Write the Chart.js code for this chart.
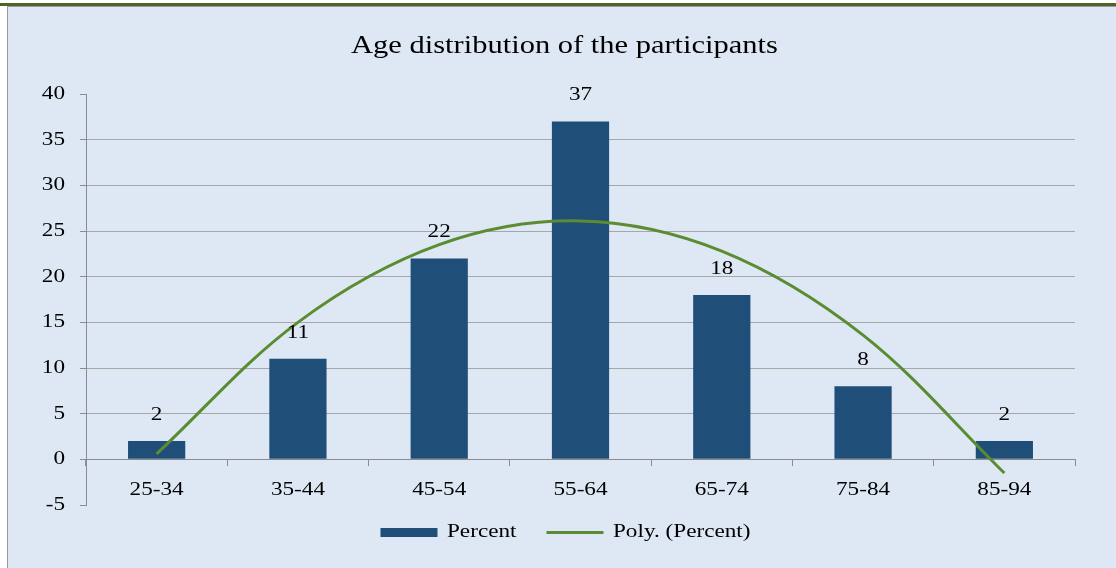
<!DOCTYPE html>
<html>
<head>
<meta charset="utf-8">
<title>Age distribution of the participants</title>
<script src="https://cdn.jsdelivr.net/npm/chart.js@4.4.1/dist/chart.umd.min.js"></script>
<style>
  html, body { margin: 0; padding: 0; background: #fff; width: 1116px; height: 568px; overflow: hidden; }
  #topline { position: absolute; left: 0; top: 3px; width: 1116px; height: 3px; background: #4f6228; }
  #frame { position: absolute; left: 7px; top: 6px; width: 1109px; height: 562px; background: #dde8f4;
           border-left: 1px solid #9a9a9a; border-top: 1px solid #9a9a9a; box-sizing: border-box; }
  #wrap { position: absolute; left: 8px; top: 7px; width: 1108px; height: 561px; }
</style>
</head>
<body>
<div id="topline"></div>
<div id="frame"></div>
<div id="wrap"><canvas id="chart" width="1108" height="561"></canvas></div>
<script>
// data
const ageGroups = ["25-34", "35-44", "45-54", "55-64", "65-74", "75-84", "85-94"];
const percent = [2, 11, 22, 37, 18, 8, 2];
// excel 2nd order trendline, value at each category
const polyTrend = [0.6, 15.0, 23.5, 26.1, 22.8, 13.6, -1.5];
const yMin = -5;
const yMax = 40;
const yStep = 5;

const serif = "'Liberation Serif', 'Times New Roman', serif";
const barColor = "#1f4e79";
const lineColor = "#5b8c32";
const gridColor = "#a6a6a6";
const axisColor = "#8c8c8c";

// the source picture is a bit stretched sideways, so the text is too
const textStretch = 1.22;
const canvas = document.getElementById("chart");
const ctx2d = canvas.getContext("2d");
const origFillText = ctx2d.fillText.bind(ctx2d);
const origMeasure = ctx2d.measureText.bind(ctx2d);
ctx2d.fillText = function (text, x, y) {
  this.save();
  this.translate(x, y);
  this.scale(textStretch, 1);
  origFillText(text, 0, 0);
  this.restore();
};
ctx2d.measureText = function (text) {
  const m = origMeasure(text);
  return {
    width: m.width * textStretch,
    actualBoundingBoxAscent: m.actualBoundingBoxAscent,
    actualBoundingBoxDescent: m.actualBoundingBoxDescent,
    actualBoundingBoxLeft: m.actualBoundingBoxLeft * textStretch,
    actualBoundingBoxRight: m.actualBoundingBoxRight * textStretch
  };
};

// numbers above the bars
const barLabels = {
  id: "barLabels",
  afterDatasetsDraw(chart) {
    const ctx = chart.ctx;
    const meta = chart.getDatasetMeta(0);
    ctx.save();
    ctx.font = "19px " + serif;
    ctx.fillStyle = "#000";
    ctx.textAlign = "center";
    ctx.textBaseline = "middle";
    meta.data.forEach((bar, i) => {
      ctx.fillText(String(percent[i]), bar.x, bar.y - 26);
    });
    ctx.restore();
  }
};

// nudge title and legend to where the original has them
const boxNudge = {
  id: "boxNudge",
  afterLayout(chart) {
    const lg = chart.legend;
    lg.left += 24;
    lg.right += 24;
    lg.top -= 12;
    lg.bottom -= 12;
    const tt = chart.titleBlock;
    tt.left += 23;
    tt.right += 23;
  }
};

new Chart(canvas, {
  data: {
    labels: ageGroups,
    datasets: [
      {
        type: "bar",
        label: "Percent",
        data: percent,
        backgroundColor: barColor,
        categoryPercentage: 1,
        barPercentage: 0.405,
        order: 1
      },
      {
        type: "line",
        label: "Poly. (Percent)",
        data: polyTrend,
        borderColor: lineColor,
        backgroundColor: lineColor,
        borderWidth: 3,
        pointRadius: 0,
        tension: 0.35,
        fill: false,
        order: 0
      }
    ]
  },
  options: {
    responsive: false,
    devicePixelRatio: 1,
    animation: false,
    layout: { padding: { left: 0, right: 41, top: 0, bottom: 4 } },
    scales: {
      x: {
        position: { y: 0 },
        grid: { offset: true, drawOnChartArea: false, drawTicks: true, tickLength: 6, color: axisColor },
        border: { display: true, color: axisColor, width: 1 },
        ticks: { font: { family: serif, size: 19 }, color: "#000", padding: 13 }
      },
      y: {
        min: yMin,
        max: yMax,
        ticks: { stepSize: yStep, font: { family: serif, size: 19 }, color: "#000", padding: 15 },
        grid: {
          color: c => (c.tick && (c.tick.value === yMax || c.tick.value === yMin)) ? "rgba(0,0,0,0)" : gridColor,
          tickColor: axisColor,
          tickLength: 6
        },
        border: { display: true, color: axisColor, width: 1 },
        afterFit: s => { s.width = 78; }
      }
    },
    plugins: {
      title: {
        display: true,
        text: "Age distribution of the participants",
        font: { family: serif, size: 25, weight: "normal" },
        color: "#000",
        padding: { top: 24, bottom: 33 }
      },
      legend: {
        position: "bottom",
        labels: {
          usePointStyle: true,
          pointStyleWidth: 57,
          boxHeight: 9,
          padding: 30,
          font: { family: serif, size: 19 },
          color: "#000",
          sort: (a, b) => a.datasetIndex - b.datasetIndex,
          generateLabels: chart => {
            const items = Chart.defaults.plugins.legend.labels.generateLabels(chart);
            items.forEach(it => {
              if (it.datasetIndex === 0) {
                it.pointStyle = "rect";
                it.fillStyle = barColor;
                it.lineWidth = 0;
              } else {
                it.pointStyle = "line";
                it.strokeStyle = lineColor;
                it.lineWidth = 3;
              }
            });
            return items;
          }
        }
      },
      tooltip: { enabled: false }
    }
  },
  plugins: [barLabels, boxNudge]
});
</script>
</body>
</html>
